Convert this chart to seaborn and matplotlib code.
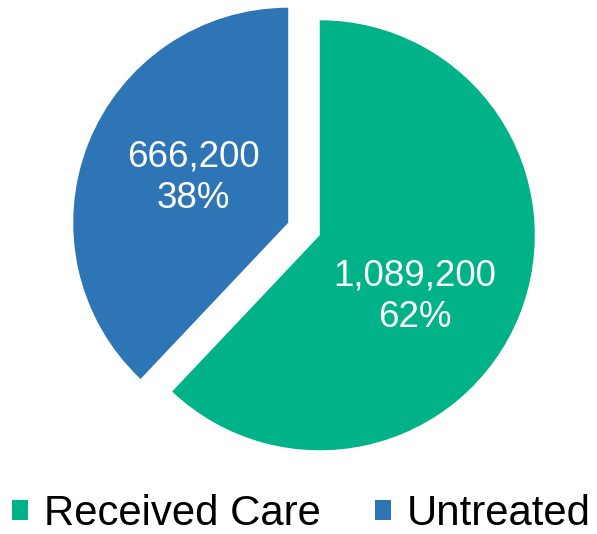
import matplotlib
matplotlib.use("Agg")
import matplotlib.pyplot as plt
import seaborn as sns
import numpy as np

categories = ["Received Care", "Untreated"]
values = [1089200, 666200]
colors = ["#00B287", "#2E75B6"]

sns.set_theme(style="white")
plt.rcParams['font.family'] = ['Liberation Sans', 'DejaVu Sans']

fig = plt.figure(figsize=(5.97, 5.34), dpi=100)
ax = fig.add_axes([0, 0, 1, 1])

total = sum(values)
def fmt(pct):
    v = int(round(pct * total / 100.0 / 100.0)) * 100
    return f"{v:,}\n{pct:.0f}%"

wedges, texts, autotexts = ax.pie(
    values, colors=colors, startangle=90, counterclock=False,
    explode=[0.079, 0.079], radius=1.0, autopct=fmt, pctdistance=0.55,
    textprops=dict(color="white", fontsize=26.5, linespacing=1.25),
    wedgeprops=dict(linewidth=0),
)
# fine-tune label placement
autotexts[0].set_position((0.516, -0.316))
autotexts[1].set_position((-0.516, 0.237))
for t in autotexts:
    t.set_ha("center"); t.set_va("center")

ax.set_xlim(-304 / 215, (597 - 304) / 215)
ax.set_ylim(-(534 - 229) / 215, 229 / 215)
ax.set_aspect("auto")
ax.axis("off")

fs = 30.2
em = fs * 100 / 72
leg = fig.legend(wedges, categories, loc="center", bbox_to_anchor=(301.5 / 597, 1 - 514 / 534),
                 ncol=2, frameon=False, fontsize=fs, handlelength=16 / em, handleheight=16 / em,
                 handletextpad=16 / em, columnspacing=54 / em, borderaxespad=0, borderpad=0)
for t in leg.get_texts():
    t.set_color("black")

fig.savefig("out.png", dpi=100)
